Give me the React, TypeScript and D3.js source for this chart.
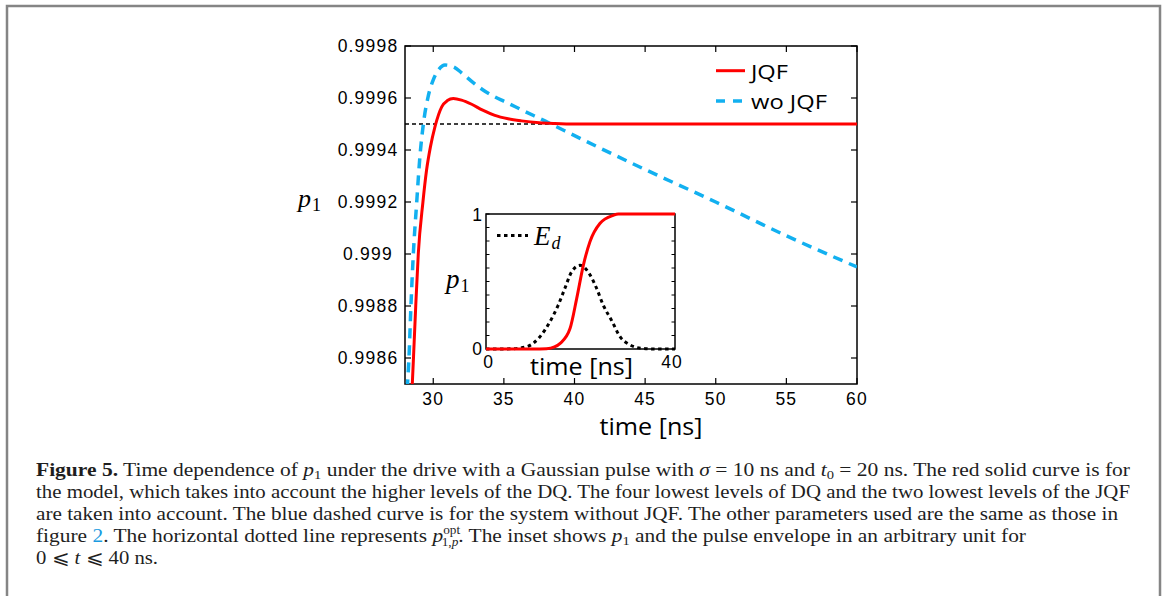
import React from "react";
import * as d3 from "d3";

// ---- main panel data ----
const xTicks = [30, 35, 40, 45, 50, 55, 60];
const yTicks = [0.9986, 0.9988, 0.999, 0.9992, 0.9994, 0.9996, 0.9998];
const yTickLabels = ["0.9986", "0.9988", "0.999", "0.9992", "0.9994", "0.9996", "0.9998"];
const pOpt = 0.9995;

const jqfT = [28.5, 28.6, 28.76, 28.94, 29.27, 29.52, 29.8, 30.12, 30.6, 31.0, 31.42, 32.0, 32.72, 33.5, 34.36, 35.3, 36.25, 37.5, 38.6, 40, 45, 50, 55, 60];
const jqfP = [0.99848, 0.9986, 0.9988, 0.999, 0.9992, 0.99932, 0.999412, 0.999489, 0.999566, 0.99959, 0.999598, 0.999592, 0.999576, 0.999553, 0.999533, 0.99952, 0.999512, 0.999505, 0.999502, 0.9995, 0.9995, 0.9995, 0.9995, 0.9995];

const woT = [28.15, 28.28, 28.42, 28.59, 28.83, 29.06, 29.3, 29.65, 30.0, 30.4, 30.83, 31.5, 32.0, 32.72, 33.5, 34.3, 35.07, 36.5, 37.9, 39.3, 41.9, 45, 50, 55, 60];
const woP = [0.99848, 0.9986, 0.9988, 0.999, 0.9992, 0.999377, 0.9995, 0.999608, 0.99967, 0.99971, 0.999727, 0.999718, 0.999697, 0.999664, 0.999632, 0.999606, 0.999586, 0.999548, 0.999512, 0.999474, 0.999405, 0.999325, 0.9992, 0.99907, 0.99895];

// ---- inset data ----
const insetP1T = [0, 10, 12.8, 14.5, 15.7, 17.8, 19.2, 20.6, 22, 24.1, 26.9, 28, 40];
const insetP1 = [0, 0, 0.002, 0.015, 0.042, 0.153, 0.375, 0.62, 0.795, 0.93, 0.99, 1, 1];
const insetEdT = [0, 5, 8.6, 11.4, 13.5, 15.3, 16.7, 18.1, 19.9, 22, 23.4, 24.8, 26.6, 28.4, 30.5, 33, 36, 40];
const insetEd = [0, 0.001, 0.017, 0.09, 0.2, 0.326, 0.45, 0.57, 0.62, 0.55, 0.45, 0.326, 0.21, 0.09, 0.03, 0.005, 0, 0];
const insetYMinor = [0, 0.1, 0.2, 0.3, 0.4, 0.5, 0.6, 0.7, 0.8, 0.9, 1];

const RED = "#ff0000";
const BLUE = "#12b0f0";
const SANS = "'Liberation Sans', Arial, Helvetica, sans-serif";
const HUM = "'Open Sans', 'Lato', sans-serif";
const SERIF = "'Liberation Serif', 'Times New Roman', serif";
const MATH = "'Liberation Serif', 'DejaVu Serif', serif";

export default function App() {
  const x = d3.scaleLinear().domain([28, 60]).range([405, 857]);
  const y = d3.scaleLinear().domain([0.9985, 0.9998]).range([384, 46]);
  const xi = d3.scaleLinear().domain([0, 40]).range([486, 675]);
  const yi = d3.scaleLinear().domain([0, 1]).range([349, 214]);

  const line = d3
    .line<[number, number]>()
    .x((d) => x(d[0]))
    .y((d) => y(d[1]))
    .curve(d3.curveMonotoneX);
  const lineI = d3
    .line<[number, number]>()
    .x((d) => xi(d[0]))
    .y((d) => yi(d[1]))
    .curve(d3.curveMonotoneX);

  const jqf = line(jqfT.map((t, i) => [t, jqfP[i]]) as [number, number][]) || "";
  const wo = line(woT.map((t, i) => [t, woP[i]]) as [number, number][]) || "";
  const ip1 = lineI(insetP1T.map((t, i) => [t, insetP1[i]]) as [number, number][]) || "";
  const ied = lineI(insetEdT.map((t, i) => [t, insetEd[i]]) as [number, number][]) || "";

  const [x0, x1] = x.range();
  const [y0, y1] = y.range();

  const capStyle = { fontFamily: SERIF, fontSize: 18.5, fill: "#1e1e1e" } as const;

  return (
    <svg
      width={1165}
      height={596}
      style={{ position: "absolute", left: 0, top: 0, background: "#fff" }}
    >
      <rect x={0} y={0} width={1165} height={596} fill="#fff" />
      {/* frame */}
      <path d="M7,596 V6 H1160 V596" fill="none" stroke="#858585" strokeWidth={2.5} />

      <defs>
        <clipPath id="plotClip">
          <rect x={x0} y={y1} width={x1 - x0} height={y0 - y1} />
        </clipPath>
      </defs>

      {/* main axes box */}
      <rect x={x0} y={y1} width={x1 - x0} height={y0 - y1} fill="#fff" stroke="#000" strokeWidth={1.5} />
      {xTicks.map((t) => (
        <g key={"xt" + t}>
          <line x1={x(t)} x2={x(t)} y1={y0} y2={y0 - 6} stroke="#000" strokeWidth={1.2} />
          <line x1={x(t)} x2={x(t)} y1={y1} y2={y1 + 6} stroke="#000" strokeWidth={1.2} />
          <text
            x={x(t)}
            y={404.5}
            textAnchor="middle"
            fontFamily={SANS}
            fontSize={17.5}
            letterSpacing={1.2}
            fill="#000"
          >
            {String(t)}
          </text>
        </g>
      ))}
      {yTicks.map((v, i) => (
        <g key={"yt" + i}>
          <line x1={x0} x2={x0 + 6} y1={y(v)} y2={y(v)} stroke="#000" strokeWidth={1.2} />
          <line x1={x1} x2={x1 - 6} y1={y(v)} y2={y(v)} stroke="#000" strokeWidth={1.2} />
          <text
            x={368}
            y={y(v) + 6.3}
            textAnchor="middle"
            fontFamily={SANS}
            fontSize={17.5}
            letterSpacing={1.2}
            fill="#000"
          >
            {yTickLabels[i]}
          </text>
        </g>
      ))}

      {/* curves */}
      <g clipPath="url(#plotClip)">
        <line x1={x0} x2={x1} y1={y(pOpt)} y2={y(pOpt)} stroke="#000" strokeWidth={1.3} strokeDasharray="4,3" />
        <path d={wo} fill="none" stroke={BLUE} strokeWidth={3.5} strokeDasharray="10,7" />
        <path d={jqf} fill="none" stroke={RED} strokeWidth={3} />
      </g>

      {/* axis labels */}
      <text x={651} y={435} textAnchor="middle" fontFamily={HUM} fontSize={23} textLength={103} lengthAdjust="spacingAndGlyphs" fill="#000">
        time [ns]
      </text>
      <text x={298} y={207} fontFamily={MATH} fontStyle="italic" fontSize={26} fill="#000">
        p
        <tspan fontStyle="normal" fontSize={18} dx={1} dy={4}>1</tspan>
      </text>

      {/* legend */}
      <line x1={716} x2={745} y1={70.7} y2={70.7} stroke={RED} strokeWidth={3} />
      <text x={751} y={78.5} fontFamily={HUM} fontSize={19.5} textLength={37} lengthAdjust="spacingAndGlyphs" fill="#000">
        JQF
      </text>
      <line x1={716} x2={745} y1={101} y2={101} stroke={BLUE} strokeWidth={3.5} strokeDasharray="9,8" />
      <text x={751} y={108.5} fontFamily={HUM} fontSize={19.5} textLength={76} lengthAdjust="spacingAndGlyphs" fill="#000">
        wo JQF
      </text>

      {/* inset */}
      <rect x={486} y={214} width={189} height={135} fill="#fff" stroke="#000" strokeWidth={1.5} />
      {insetYMinor.map((v) => (
        <g key={"iy" + v}>
          <line x1={486} x2={489.5} y1={yi(v)} y2={yi(v)} stroke="#000" strokeWidth={1} />
          <line x1={675} x2={671.5} y1={yi(v)} y2={yi(v)} stroke="#000" strokeWidth={1} />
        </g>
      ))}
      <path d={ied} fill="none" stroke="#000" strokeWidth={3} strokeDasharray="3.5,3.5" />
      <path d={ip1} fill="none" stroke={RED} strokeWidth={3} />
      <text x={477} y={220.5} textAnchor="middle" fontFamily={SANS} fontSize={17.5} fill="#000">1</text>
      <text x={477} y={355} textAnchor="middle" fontFamily={SANS} fontSize={17.5} fill="#000">0</text>
      <text x={xi(0) + 2} y={368} textAnchor="middle" fontFamily={SANS} fontSize={17.5} fill="#000">0</text>
      <text x={xi(40) - 3} y={368} textAnchor="middle" fontFamily={SANS} fontSize={17.5} letterSpacing={1} fill="#000">40</text>
      <text x={581.5} y={374.5} textAnchor="middle" fontFamily={HUM} fontSize={23} textLength={103} lengthAdjust="spacingAndGlyphs" fill="#000">
        time [ns]
      </text>
      <text x={446} y={288} fontFamily={MATH} fontStyle="italic" fontSize={27} fill="#000">
        p
        <tspan fontStyle="normal" fontSize={18} dx={1} dy={4}>1</tspan>
      </text>
      <line x1={497} x2={528} y1={235.5} y2={235.5} stroke="#000" strokeWidth={3} strokeDasharray="3.5,3.5" />
      <text x={534} y={245} fontFamily={MATH} fontStyle="italic" fontSize={27} fill="#000">
        E
        <tspan fontSize={18} dx={1} dy={4}>d</tspan>
      </text>

      {/* caption */}
      <text x={36} y={476} {...capStyle} textLength={1094} lengthAdjust="spacingAndGlyphs">
        <tspan fontWeight="bold">Figure 5.</tspan>
        {"  Time dependence of "}
        <tspan fontStyle="italic">p</tspan>
        <tspan fontSize={12.5} dy={3}>1</tspan>
        <tspan dy={-3}>{" under the drive with a Gaussian pulse with "}</tspan>
        <tspan fontStyle="italic">σ</tspan>
        {" = 10 ns and "}
        <tspan fontStyle="italic">t</tspan>
        <tspan fontSize={12.5} dy={3}>0</tspan>
        <tspan dy={-3}>{" = 20 ns. The red solid curve is for"}</tspan>
      </text>
      <text x={36} y={498} {...capStyle} textLength={1094} lengthAdjust="spacingAndGlyphs">
        the model, which takes into account the higher levels of the DQ. The four lowest levels of DQ and the two lowest levels of the JQF
      </text>
      <text x={36} y={520} {...capStyle} textLength={1082} lengthAdjust="spacingAndGlyphs">
        are taken into account. The blue dashed curve is for the system without JQF. The other parameters used are the same as those in
      </text>
      <text x={36} y={542} {...capStyle} textLength={990} lengthAdjust="spacingAndGlyphs">
        {"figure "}
        <tspan fill="#1a9be0">2</tspan>
        {". The horizontal dotted line represents "}
        <tspan fontStyle="italic">p</tspan>
        <tspan fontSize={11.5} dy={-8}>opt</tspan>
        <tspan fontSize={11.5} dx={-16} dy={12}>1,</tspan>
        <tspan fontSize={11.5} fontStyle="italic">p</tspan>
        <tspan dy={-4}>{". The inset shows "}</tspan>
        <tspan fontStyle="italic">p</tspan>
        <tspan fontSize={12.5} dy={3}>1</tspan>
        <tspan dy={-3}>{" and the pulse envelope in an arbitrary unit for"}</tspan>
      </text>
      <text x={36} y={564} {...capStyle} textLength={122} lengthAdjust="spacingAndGlyphs">
        {"0 ⩽ "}
        <tspan fontStyle="italic">t</tspan>
        {" ⩽ 40 ns."}
      </text>
    </svg>
  );
}
